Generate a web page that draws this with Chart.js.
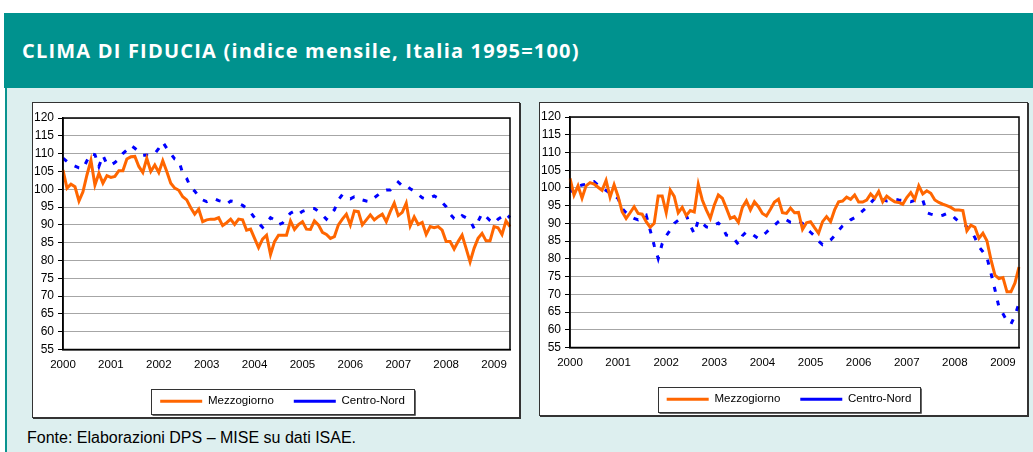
<!DOCTYPE html>
<html>
<head>
<meta charset="utf-8">
<script src="https://cdn.jsdelivr.net/npm/chart.js@4/dist/chart.umd.min.js"></script>
<style>
html, body { margin: 0; padding: 0; background: #fff; }
body { width: 1033px; height: 452px; position: relative; overflow: hidden; font-family: "Liberation Sans", Arial, sans-serif; }
#head { position: absolute; left: 4px; top: 13px; width: 1029px; height: 75px; background: #00928e; }
#head h1 { margin: 0; position: absolute; left: 18px; top: 28px; color: #fff; font: 700 20px/1 "Open Sans", sans-serif; letter-spacing: 1.2px; white-space: nowrap; }
#panel { position: absolute; left: 5px; top: 88px; width: 1026px; height: 364px; background: #ddefef; border-left: 2px solid #0a938f; }
.box { position: absolute; background: #fff; border: 1px solid #333; box-shadow: 1px 1px 0 #333; }
.box canvas { display: block; }
#note { position: absolute; left: 27px; top: 430px; font-size: 16px; line-height: 1; color: #000; white-space: nowrap; }
</style>
</head>
<body>
<div id="head"><h1>CLIMA DI FIDUCIA (indice mensile, Italia 1995=100)</h1></div>
<div id="panel"></div>
<div class="box" style="left:32px;top:102px;width:486px;height:314px;"><canvas id="left" width="486" height="314"></canvas></div>
<div class="box" style="left:539px;top:102px;width:487px;height:312px;"><canvas id="right" width="487" height="312"></canvas></div>
<div id="note">Fonte: Elaborazioni DPS – MISE su dati ISAE.</div>
<script>
var years = ["2000","2001","2002","2003","2004","2005","2006","2007","2008","2009"];
var yTicks = { min: 55, max: 120, step: 5 };

// monthly values, Jan 2000 - May 2009
var mezzogiornoA = [
  105.4,100.3,101.4,100.7,96.7,99.3,104,108.1,101.2,104.5,101.7,103.8,
  103.3,103.6,105.2,105.2,108.5,109.1,109.2,106.4,104.7,108.7,105,106.8,
  104.7,108,105,101.7,100.3,99.7,97.9,97,94.8,93,94.4,90.9,
  91.4,91.6,91.6,92,89.8,90.6,91.6,90.1,91.6,91.4,88.5,88.8,
  86.2,83.6,86,87.1,81.7,85.3,87.1,87.1,87.1,91.1,88.7,90.1,
  90.9,88.8,88.7,91.1,90,87.9,87.3,86.2,86.7,90,91.6,93,
  90,93.9,93.7,90,91.4,92.8,91.4,92.3,93,90.9,93.7,96.1,
  92.6,93.5,96.1,89.7,92.2,90.1,90.7,87.3,89.5,89.2,89.5,88.5,
  85.3,85.3,83.2,85.3,87.1,83.4,79.6,83.4,86.2,87.6,85.5,85.5,
  89.5,89.2,87.3,91.1,89.5
];
var centroNordA = [
  108.7,107.8,107,106.5,106,105.8,108,110,109.7,106.4,109.5,107,
  106.8,107.5,108.5,110,111,112.3,111.5,110.5,109.5,109.6,109.5,110,
  111.5,113.2,111.5,110,108.5,108,104.5,103,100.5,99.5,98,97,
  96.5,97,97.3,96.8,96.5,95.8,96.7,96.5,96,95.5,94.6,93.5,
  92,90.5,89.3,90.5,92,91.4,90,90.5,92,93.3,93.9,93,
  93.8,94.2,94.6,94.6,93.8,92.8,91.6,93,94.2,97,98.5,97.6,
  97.3,97.9,97.8,97,96.7,96.5,97.6,98.5,99.5,99.8,99.8,100.7,
  102,101,101.2,100.1,99.5,98.6,97.6,97.2,97.6,98.1,97.5,96.3,
  95.1,93,91.8,91.4,92.6,92,91.2,89,91,93.2,92.3,91.2,
  90.4,91.6,92.3,91.4,92.6
];
var mezzogiornoB = [
  102.7,98,100.6,97.1,100.6,101.5,101.1,100.2,99.3,102.1,97.4,100.9,
  97.6,93.3,91.4,93,94.7,92.8,92.6,90.5,88.9,90,97.7,97.7,
  93,99.4,97.6,93,94.5,92.2,93.6,93.2,101,96.6,93.8,91.4,
  95.2,98,97.1,94.3,91.4,91.9,90.3,94.5,96.4,93.8,96.1,94.7,
  92.8,92.1,94,96,96.8,93,92.8,94.3,93,93.1,88.3,90.2,
  90.5,88.8,87.2,90.5,91.9,90.5,93.8,96.1,96.3,97.4,96.8,98,
  96,96,96.6,98.3,97.1,99,96.1,97.7,96.8,96.1,95.9,95.4,
  97.3,98.7,96.8,100.6,98.3,99.2,98.5,96.6,95.9,95.4,95,94.5,
  93.8,93.8,93.6,87.9,89.5,88.9,85.8,87.2,85.1,79.8,75.4,74.4,
  74.7,70.7,70.7,73.2,77.7
];
var centroNordB = [
  99.4,98.8,100.5,100.8,101,101.5,101.8,100.8,99.8,99.3,98.5,98,
  97,94.2,93,92,91.4,91,91.7,92.3,88.1,83.8,80.1,84.3,
  86.5,88.1,90,90.9,91.5,92.3,89.5,87.1,90.9,90,89,88.8,
  89.5,90.1,89,86.7,86.5,85.5,84.1,86.5,87.6,87.3,86.5,85.7,
  86.5,87.5,88.6,89.5,90.5,91.4,91,90.3,90.1,90.6,90,88.5,
  87.5,86.5,85,84,84.5,85.3,86.5,88,89.3,90,91,91.6,
  92.5,93.5,94.5,95.8,97,97.3,96.8,96.3,96.5,96.8,96.6,96.5,
  96.3,96.1,96.5,97,96.6,93,92.6,92.3,92,92.3,92.8,92.6,
  91.5,90.5,90.1,89,87.9,86,83.4,82,80.4,76,71.3,66.4,
  64.5,62.5,61.6,64,67.5
];

var months = [];
years.forEach(function (y) {
  for (var m = 1; m <= 12; m++) months.push(y + "-" + (m < 10 ? "0" + m : m));
});
months = months.slice(0, mezzogiornoA.length);

var xFont = { family: "Liberation Sans", size: 11.5 };
var yFont = { family: "Liberation Sans", size: 12 };

// black frame round the plot area, boxed legend
var frame = {
  id: "frame",
  afterLayout: function (chart, args, opts) {
    chart.legend.left += opts.legendShift;
    chart.legend.right += opts.legendShift;
  },
  afterDatasetsDraw: function (chart) {
    var a = chart.chartArea, ctx = chart.ctx;
    ctx.save();
    ctx.strokeStyle = "#000";
    ctx.lineWidth = 1.5;
    ctx.strokeRect(a.left, a.top, a.right - a.left, a.bottom - a.top);
    ctx.restore();
  },
  afterDraw: function (chart) {
    var hb = chart.legend.legendHitBoxes;
    if (!hb || !hb.length) return;
    var last = hb[hb.length - 1], ctx = chart.ctx;
    var l = Math.round(hb[0].left - 9) + 0.5, r = Math.round(last.left + last.width + 9) + 0.5;
    var t = Math.round(hb[0].top - 7) + 0.5, b = Math.round(hb[0].top + hb[0].height + 7) + 0.5;
    ctx.save();
    ctx.strokeStyle = "#333";
    ctx.lineWidth = 1;
    ctx.strokeRect(l, t, r - l, b - t);
    ctx.beginPath();
    ctx.moveTo(l + 1, b + 1); ctx.lineTo(r + 1, b + 1); ctx.lineTo(r + 1, t + 1);
    ctx.strokeStyle = "#666";
    ctx.stroke();
    ctx.restore();
  }
};

function makeChart(id, mezz, centro, pad, legendShift) {
  return new Chart(document.getElementById(id), {
    type: "line",
    data: {
      labels: months,
      datasets: [{
        label: "Mezzogiorno",
        data: mezz,
        borderColor: "#ff6600",
        backgroundColor: "#ff6600",
        borderWidth: 3,
        pointRadius: 0,
        tension: 0
      }, {
        label: "Centro-Nord",
        data: centro,
        borderColor: "#0000ff",
        backgroundColor: "#0000ff",
        borderWidth: 3,
        borderDash: [5, 9],
        pointRadius: 0,
        tension: 0
      }]
    },
    options: {
      responsive: false,
      animation: false,
      events: [],
      layout: { padding: pad },
      plugins: {
        frame: { legendShift: legendShift },
        legend: {
          position: "bottom",
          labels: {
            usePointStyle: true,
            pointStyle: "line",
            pointStyleWidth: 42,
            padding: 20,
            color: "#000",
            font: xFont
          }
        },
        tooltip: { enabled: false }
      },
      scales: {
        x: {
          grid: { display: false, drawTicks: false },
          border: { display: true, color: "#000", width: 1.5 },
          ticks: {
            autoSkip: false,
            maxRotation: 0,
            padding: 8,
            color: "#000",
            font: xFont,
            callback: function (v, i) { return i % 12 === 0 ? years[i / 12] : ""; }
          },
          afterFit: function (s) { s.height = 26; s.paddingLeft = 0; s.paddingRight = 0; }
        },
        y: {
          min: yTicks.min,
          max: yTicks.max,
          ticks: { stepSize: yTicks.step, padding: 4, color: "#000", font: yFont },
          grid: { color: "#a6a6a6", lineWidth: 1, tickColor: "#000", tickLength: 5 },
          border: { color: "#000", width: 1.5 },
          afterFit: function (s) { s.width = 30; }
        }
      }
    },
    plugins: [frame]
  });
}

makeChart("left", mezzogiornoA, centroNordA, { left: 0, right: 9, top: 15, bottom: 0 }, 11);
makeChart("right", mezzogiornoB, centroNordB, { left: 0, right: 8, top: 14, bottom: 0 }, 9.5);
</script>
</body>
</html>
